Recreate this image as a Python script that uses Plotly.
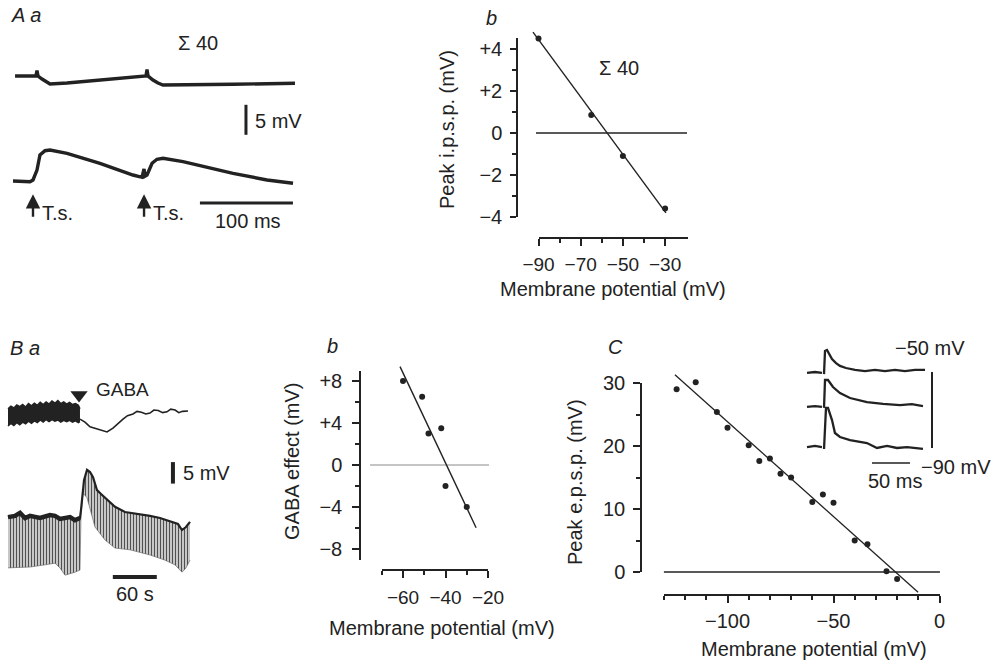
import plotly.graph_objects as go

W, H = 1004, 662
INK = "#222222"
FONT = "Liberation Sans, Arial, Helvetica, sans-serif"
FS = 20

# ---------------- data ----------------
# A a : summed (n=40) recordings; time in ms, voltage in mV (relative)
aa_top_t = [2.2, 24.7, 25.8, 26.9, 31.2, 35.5, 39.8, 58.1, 93.5, 129.0, 143.0, 144.1, 145.2, 150.5, 155.9, 161.3, 182.8, 236.6, 303.2]
aa_top_v = [17.5, 17.5, 18.4, 17.5, 17.0, 16.5, 16.17, 16.33, 16.83, 17.33, 17.5, 18.6, 17.5, 16.83, 16.33, 16.0, 16.0, 16.12, 16.28]
aa_bot_t = [0, 18.3, 21.5, 25.8, 29.0, 34.4, 39.8, 58.1, 93.5, 129.0, 138.7, 140.9, 141.9, 144.1, 149.5, 154.8, 161.3, 182.8, 236.6, 273.1, 301.1]
aa_bot_v = [0, -0.12, 0.17, 1.83, 4.33, 5.05, 5.17, 4.62, 2.95, 1.0, 0.62, 2.0, 0.8, 1.0, 2.95, 3.62, 3.78, 3.22, 1.28, 0.17, -0.38]
aa_stim_t = [21.5, 140.9]

# A b : peak i.p.s.p. vs membrane potential
ab_vm = [-90, -65, -50, -30]
ab_ipsp = [4.5, 0.86, -1.1, -3.6]
ab_fit_vm = [-92.6, -29.6]
ab_fit_ipsp = [4.8, -3.8]
ab_zero_vm = [-91.2, -19.6]

# B a : GABA application; time in s, voltage in mV (relative)
ba_band_t = [0, 4, 8, 12, 16, 20, 24, 28, 32, 36, 40, 44, 48, 52, 56, 60, 64, 68, 72, 76, 80, 84, 88, 92, 96, 98.2]
ba_band_hi = [25.4, 26.0, 25.6, 26.3, 25.9, 26.4, 25.8, 26.6, 26.1, 26.7, 26.2, 26.9, 26.4, 27.0, 26.5, 27.2, 26.7, 27.3, 26.6, 27.0, 26.5, 26.9, 26.4, 26.6, 26.2, 25.4]
ba_band_lo = [21.4, 22.0, 21.5, 22.2, 21.7, 22.3, 21.9, 22.5, 22.0, 22.6, 22.2, 22.8, 22.3, 22.9, 22.4, 22.9, 22.5, 22.8, 22.3, 22.7, 22.4, 22.7, 22.3, 22.6, 22.2, 22.4]
ba_top_t = [98.2, 105, 111.9, 118, 125.5, 135.1, 143.2, 150, 156.9, 163, 170.5, 176, 182, 188, 193.7, 199, 205, 211, 216.9, 222, 228, 233, 238, 245.6]
ba_top_v = [23.0, 22.3, 21.2, 20.9, 20.5, 20.0, 20.9, 22.0, 23.0, 23.8, 24.2, 24.8, 24.6, 24.2, 24.4, 25.1, 25.0, 24.5, 24.7, 25.3, 25.1, 24.5, 24.8, 24.9]
ba_bot_hi_t = [0, 9.5, 16.4, 23.2, 30.0, 43.7, 57.3, 64.1, 70.9, 84.6, 91.4, 98.2, 99.6, 103.7, 107.8, 111.9, 116.0, 121.4, 126.9, 132.3, 139.2, 146.0, 159.6, 180.1, 193.7, 207.4, 221.0, 231.9, 237.4, 242.8, 248.3]
ba_bot_hi_v = [0.2, 0.5, 1.2, 0, 0.5, 0, 0.7, 0.5, -0.2, 0.2, -0.5, 0, 1.9, 8.8, 11.2, 10.7, 9.5, 6.5, 5.6, 4.7, 3.5, 2.6, 1.4, 0.9, 0.5, 0, -0.7, -1.4, -2.8, -2.1, -0.9]
ba_bot_lo_t = [0, 16.4, 30.0, 50.5, 64.1, 70.9, 77.8, 91.4, 98.2, 99.6, 102.3, 107.8, 118.7, 132.3, 146.0, 166.4, 193.7, 214.2, 227.8, 237.4, 242.8, 248.3]
ba_bot_lo_v = [-11.6, -11.4, -11.4, -10.9, -10.5, -11.6, -13.3, -12.6, -12.1, 0.7, 5.8, 4.7, -2.1, -5.1, -7.0, -7.4, -8.6, -9.8, -10.9, -12.6, -11.6, -9.8]
ba_gaba_t = [96.9]
ba_gaba_v = [28.6]

# B b : GABA effect vs membrane potential
bb_vm = [-60, -51, -48, -42, -40, -30]
bb_eff = [8.0, 6.5, 3.0, 3.5, -2.0, -4.0]
bb_fit_vm = [-61.4, -25.6]
bb_fit_eff = [9.37, -5.97]
bb_zero_vm = [-75.5, -19.5]

# C : peak e.p.s.p. vs membrane potential
c_vm = [-124, -115, -105, -100, -90, -85, -80, -75, -70, -60, -55, -50, -40, -34, -25, -20]
c_epsp = [29.0, 30.1, 25.4, 22.9, 20.1, 17.6, 18.0, 15.6, 15.0, 11.1, 12.3, 11.0, 5.0, 4.4, 0.1, -1.1]
c_fit_vm = [-124.8, -10.1]
c_fit_epsp = [31.3, -3.2]
c_zero_vm = [-130, 0.2]

# C inset : e.p.s.p. records at three holding potentials; time in ms, potential in mV
ci_top_t = [0, 10.5, 19.7, None, 22.4, 23.7, 26.3, 28.9, 32.9, 38.2, 43.4, 51.3, 63.2, 76.3, 89.5, 102.6, 115.8, 128.9, 142.1, 155.3]
ci_top_v = [-50.5, -50.0, -50.5, None, -51.1, -38.9, -38.4, -40.5, -43.2, -45.3, -46.8, -47.9, -48.9, -49.5, -48.9, -49.5, -48.9, -49.5, -48.9, -48.9]
ci_mid_t = [0, 10.5, 19.7, None, 22.4, 23.7, 27.6, 34.2, 43.4, 56.6, 78.9, 100.0, 122.4, 138, 152.6]
ci_mid_v = [-68.4, -68.0, -68.4, None, -68.9, -54.2, -54.2, -57.9, -61.1, -63.7, -65.8, -66.8, -67.4, -66.9, -67.9]
ci_bot_t = [0, 10.5, 19.7, None, 22.4, 25.0, 27.6, 32.9, 36.8, 43.4, 56.6, 78.9, 92.1, 105.3, 118.4, 131.6, 152.6]
ci_bot_v = [-89.5, -88.9, -89.5, None, -90.5, -68.9, -68.9, -75.3, -82.1, -84.2, -85.8, -87.4, -90.0, -88.9, -90.0, -89.5, -90.5]


# ---------------- layout helpers ----------------
def fx(px):
    return px / W


def fy(py):
    return 1 - py / H


def hid_x(pa, pb, p0, v0, k):
    return dict(domain=[fx(pa), fx(pb)], range=[v0 + (pa - p0) / k, v0 + (pb - p0) / k],
                visible=False, fixedrange=True, automargin=False)


def hid_y(ptop, pbot, p0, v0, k):
    return dict(domain=[fy(pbot), fy(ptop)], range=[v0 - (pbot - p0) / k, v0 - (ptop - p0) / k],
                visible=False, fixedrange=True, automargin=False)


def axis_style(major, labels, minor, ticklen, standoff, tsize):
    return dict(showline=True, linecolor=INK, linewidth=1.5, ticks="outside", ticklen=ticklen,
                tickwidth=1.5, tickcolor=INK, tickmode="array", tickvals=major, ticktext=labels,
                showgrid=False, zeroline=False, fixedrange=True, ticklabelstandoff=standoff,
                automargin=False,
                minor=dict(tickvals=minor, ticks="outside", ticklen=4, tickwidth=1.5,
                           tickcolor=INK, showgrid=False),
                tickfont=dict(family=FONT, size=tsize, color=INK))


def frame_x(vlo, vhi, p0, v0, k, py_line, major, labels, minor, ticklen=7, standoff=4, tsize=FS):
    pa = p0 + (vlo - v0) * k
    pb = p0 + (vhi - v0) * k
    d = dict(domain=[fx(pa), fx(pb)], range=[vlo, vhi], anchor="free", position=fy(py_line))
    d.update(axis_style(major, labels, minor, ticklen, standoff, tsize))
    return d


def frame_y(vlo, vhi, p0, v0, k, px_line, major, labels, minor, ticklen=6, standoff=4, tsize=FS):
    pbot = p0 - (vlo - v0) * k
    ptop = p0 - (vhi - v0) * k
    d = dict(domain=[fy(pbot), fy(ptop)], range=[vlo, vhi], anchor="free", position=fx(px_line))
    d.update(axis_style(major, labels, minor, ticklen, standoff, tsize))
    return d


# pixel scales (ref pixel, ref value, pixels per unit)
AA_X = (13, 0, 0.93)
AA_Y = (181, 0, 6.0)
AB_X = (538.5, -90, 2.11)
AB_Y = (133, 0, 21.0)
BA_X = (8, 0, 0.733)
BA_Y = (518, 0, 4.3)
BB_X = (403, -60, 2.125)
BB_Y = (465, 0, 10.5)
C_X = (939.5, 0, 2.12)
C_Y = (572, 0, 6.3)
CI_X = (807, 0, 0.76)
CI_Y = (372, -50, 1.9)

fig = go.Figure()


def line(x, y, ax, width=1.4, color=INK, **kw):
    fig.add_trace(go.Scatter(x=x, y=y, xaxis=ax[0], yaxis=ax[1], mode="lines",
                             line=dict(color=color, width=width), showlegend=False,
                             hoverinfo="skip", **kw))


def dots(x, y, ax, size=6):
    fig.add_trace(go.Scatter(x=x, y=y, xaxis=ax[0], yaxis=ax[1], mode="markers",
                             marker=dict(color=INK, size=size), showlegend=False,
                             hoverinfo="skip", cliponaxis=False))


AA = ("x", "y")
AB = ("x2", "y2")
BA = ("x4", "y4")
BB = ("x5", "y5")
CC = ("x7", "y7")
CI = ("x9", "y9")

# ---- A a ----
line(aa_top_t, aa_top_v, AA, width=3.4)
line(aa_bot_t, aa_bot_v, AA, width=3.4)
line([250.5, 250.5], [7.7, 12.7], AA, width=3)      # 5 mV scale bar
line([201, 301], [-3.67, -3.67], AA, width=3)       # 100 ms scale bar

# ---- A b ----
line(ab_zero_vm, [0, 0], AB, width=1.5)
line(ab_fit_vm, ab_fit_ipsp, AB, width=1.4)
dots(ab_vm, ab_ipsp, AB, size=6)
fig.add_trace(go.Scatter(x=[None], y=[None], xaxis="x3", yaxis="y3", showlegend=False))

# ---- B a ----
fig.add_trace(go.Scatter(x=ba_band_t, y=ba_band_lo, xaxis="x4", yaxis="y4", mode="lines",
                         line=dict(color=INK, width=1.5), showlegend=False, hoverinfo="skip"))
fig.add_trace(go.Scatter(x=ba_band_t, y=ba_band_hi, xaxis="x4", yaxis="y4", mode="lines",
                         line=dict(color=INK, width=1.5), fill="tonexty", fillcolor=INK,
                         showlegend=False, hoverinfo="skip"))
line(ba_top_t, ba_top_v, BA, width=1.6)
fig.add_trace(go.Scatter(x=ba_bot_lo_t, y=ba_bot_lo_v, xaxis="x4", yaxis="y4", mode="lines",
                         line=dict(color="rgba(90,90,90,0.6)", width=1), showlegend=False,
                         hoverinfo="skip"))
fig.add_trace(go.Scatter(x=ba_bot_hi_t, y=ba_bot_hi_v, xaxis="x4", yaxis="y4", mode="lines",
                         line=dict(color=INK, width=2.2), fill="tonexty",
                         fillpattern=dict(shape="|", size=3, solidity=0.4, fgcolor="#505050",
                                          bgcolor="#d4d4d4"),
                         showlegend=False, hoverinfo="skip"))
line(ba_bot_hi_t[:12], ba_bot_hi_v[:12], BA, width=4.5)   # noisy pre-GABA baseline
fig.add_trace(go.Scatter(x=ba_gaba_t, y=ba_gaba_v, xaxis="x4", yaxis="y4", mode="markers",
                         marker=dict(symbol="triangle-down", size=15, color=INK),
                         showlegend=False, hoverinfo="skip", cliponaxis=False))
line([225, 225], [8, 13], BA, width=4)              # 5 mV scale bar
line([143, 203], [-13.7, -13.7], BA, width=4)       # 60 s scale bar

# ---- B b ----
line(bb_zero_vm, [0, 0], BB, width=1, color="#8a8a8a")
line(bb_fit_vm, bb_fit_eff, BB, width=1.4)
dots(bb_vm, bb_eff, BB, size=6)
fig.add_trace(go.Scatter(x=[None], y=[None], xaxis="x6", yaxis="y6", showlegend=False))

# ---- C ----
line(c_zero_vm, [0, 0], CC, width=1.4)
line(c_fit_vm, c_fit_epsp, CC, width=1.3)
dots(c_vm, c_epsp, CC, size=6)
fig.add_trace(go.Scatter(x=[None], y=[None], xaxis="x8", yaxis="y8", showlegend=False))

# ---- C inset ----
line(ci_top_t, ci_top_v, CI, width=2.3)
line(ci_mid_t, ci_mid_v, CI, width=2.3)
line(ci_bot_t, ci_bot_v, CI, width=2.3)
line([164.5, 164.5], [-50, -90], CI, width=2)       # potential range bar
line([85.5, 135.5], [-97.9, -97.9], CI, width=1.5)  # 50 ms scale bar

# ---------------- layout ----------------
lay = dict(
    template="none",
    width=W, height=H, autosize=False,
    margin=dict(l=0, r=0, t=0, b=0, pad=0, autoexpand=False),
    paper_bgcolor="white", plot_bgcolor="rgba(0,0,0,0)",
    font=dict(family=FONT, size=FS, color=INK), showlegend=False,
    xaxis=hid_x(0, 310, *AA_X), yaxis=hid_y(0, 245, *AA_Y),
    xaxis2=hid_x(480, 720, *AB_X), yaxis2=hid_y(15, 245, *AB_Y),
    xaxis3=frame_x(-90, -19, *AB_X, 238, [-90, -70, -50, -30], ["−90", "−70", "−50", "−30"],
                   [-80, -60, -40], ticklen=7, standoff=2, tsize=19),
    yaxis3=frame_y(-4, 4.52, *AB_Y, 517, [-4, -2, 0, 2, 4], ["−4", "−2", "0", "+2", "+4"],
                   [-3, -1, 1, 3], ticklen=6, standoff=4),
    xaxis4=hid_x(0, 260, *BA_X), yaxis4=hid_y(370, 615, *BA_Y),
    xaxis5=hid_x(362, 500, *BB_X), yaxis5=hid_y(355, 575, *BB_Y),
    xaxis6=frame_x(-70, -20, *BB_X, 570, [-60, -40, -20], ["−60", "−40", "−20"],
                   [-70, -50, -30], ticklen=7, standoff=3, tsize=19),
    yaxis6=frame_y(-9, 9, *BB_Y, 360, [-8, -4, 0, 4, 8], ["−8", "−4", "0", "+4", "+8"],
                   [-6, -2, 2, 6], ticklen=7, standoff=6),
    xaxis7=hid_x(650, 965, *C_X), yaxis7=hid_y(360, 600, *C_Y),
    xaxis8=frame_x(-130, 0, *C_X, 595, [-100, -50, 0], ["−100", "−50", "0"],
                   [-130, -120, -110, -90, -80, -70, -60, -40, -30, -20, -10], ticklen=7, standoff=1),
    yaxis8=frame_y(0, 30, *C_Y, 641, [0, 10, 20, 30], ["0", "10", "20", "30"],
                   [5, 15, 25], ticklen=7, standoff=4),
    xaxis9=hid_x(795, 1004, *CI_X), yaxis9=hid_y(335, 500, *CI_Y),
)
fig.update_layout(**lay)


def text(s, px, py, xanchor="center", size=FS, angle=0, italic=False):
    fig.add_annotation(text=f"<i>{s}</i>" if italic else s, x=fx(px), y=fy(py), xref="paper",
                       yref="paper", showarrow=False, xanchor=xanchor, yanchor="middle",
                       textangle=angle, font=dict(family=FONT, size=size, color=INK))


# stimulus arrows (A a)
for t in aa_stim_t:
    fig.add_annotation(x=t, y=-2.2, ax=t, ay=-6.2, xref="x", yref="y", axref="x", ayref="y",
                       showarrow=True, arrowhead=2, arrowsize=1.2, arrowwidth=2.4,
                       arrowcolor=INK, text="")
    fig.add_annotation(x=t + 7, y=-5.4, xref="x", yref="y", text="T.s.", showarrow=False,
                       xanchor="left", yanchor="middle", font=dict(family=FONT, size=20, color=INK))

text("A a", 9, 15, xanchor="left", italic=True)
text("Σ 40", 198, 43)
text("5 mV", 253, 121, xanchor="left")
text("100 ms", 248, 221)

text("b", 491, 18, italic=True)
text("Σ 40", 619, 68)
text("Peak i.p.s.p. (mV)", 447, 130, angle=-90)
text("Membrane potential (mV)", 613, 289)

text("B a", 8, 348, xanchor="left", italic=True)
text("GABA", 94, 389, xanchor="left", size=19)
text("5 mV", 181, 473, xanchor="left")
text("60 s", 135, 594)

text("b", 332, 346, italic=True)
text("GABA effect (mV)", 292, 462, angle=-90)
text("Membrane potential (mV)", 442, 628)

text("C", 615, 347, italic=True)
text("Peak e.p.s.p. (mV)", 575, 482, angle=-90)
text("Membrane potential (mV)", 814, 649)
text("−50 mV", 967, 348, xanchor="right")
text("−90 mV", 919, 467, xanchor="left")
text("50 ms", 895, 481)

fig.write_html("out.html")
